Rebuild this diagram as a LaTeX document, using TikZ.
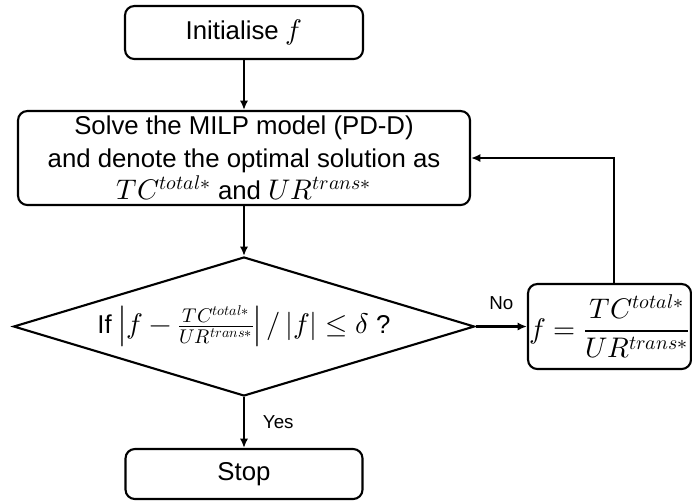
\documentclass[tikz,border=0pt]{standalone}
\usepackage{amsmath}
\usepackage{fontspec}
\usepackage{unicode-math}
\setmainfont{Liberation Sans}
\setmathfont{Latin Modern Math}[Scale=1.1]
\usetikzlibrary{shapes.geometric,arrows.meta}

\begin{document}
\begin{tikzpicture}[->,>={Latex[length=8pt,width=7pt]},line width=1.8pt]
    \tikzstyle{every node}=[font=\fontsize{22}{28}\selectfont]
    \tikzstyle{stepbox}=[draw,rounded corners=8pt,align=center,inner sep=0pt]
    \tikzstyle{decision}=[draw,diamond,aspect=3.32,inner sep=0pt]
    \tikzstyle{annot}=[font=\fontsize{16}{19}\selectfont]

    \useasboundingbox (0,0) rectangle (20.76,-15.03);

    % Draw the boxes of the loop
    \node[stepbox, minimum width=7.14cm, minimum height=1.59cm] (Init) at (7.32,-0.975) {Initialise $f$};
    \node[stepbox, minimum width=13.56cm, minimum height=2.82cm] (Solve) at (7.32,-4.74) {Solve the MILP model (PD-D)\\and denote the optimal solution as\\$TC^{total*}$ and $UR^{trans*}$};
    \node[decision, minimum width=13.83cm, minimum height=4.17cm] (Check) at (7.32,-9.795) {If $\left|f-\frac{TC^{total*}}{UR^{trans*}}\right|/\,|f|\leq\delta$ ?};
    \node[stepbox, minimum width=4.89cm, minimum height=2.55cm] (Update) at (18.285,-9.795) {$f=\dfrac{TC^{total*}}{UR^{trans*}}$};
    \node[stepbox, minimum width=7.11cm, minimum height=1.5cm] (Stop) at (7.32,-14.22) {Stop};

    % Connect them
    \path (Init) edge (Solve);
    \path (Solve) edge (Check);
    \path (Check) edge node[annot, above=0.36cm] (No) {No} (Update);
    \path (Check) edge node[annot, right=0.42cm] (Yes) {Yes} (Stop);
    \draw ([xshift=0.135cm]Update.north) |- (Solve.east);
\end{tikzpicture}
\end{document}
